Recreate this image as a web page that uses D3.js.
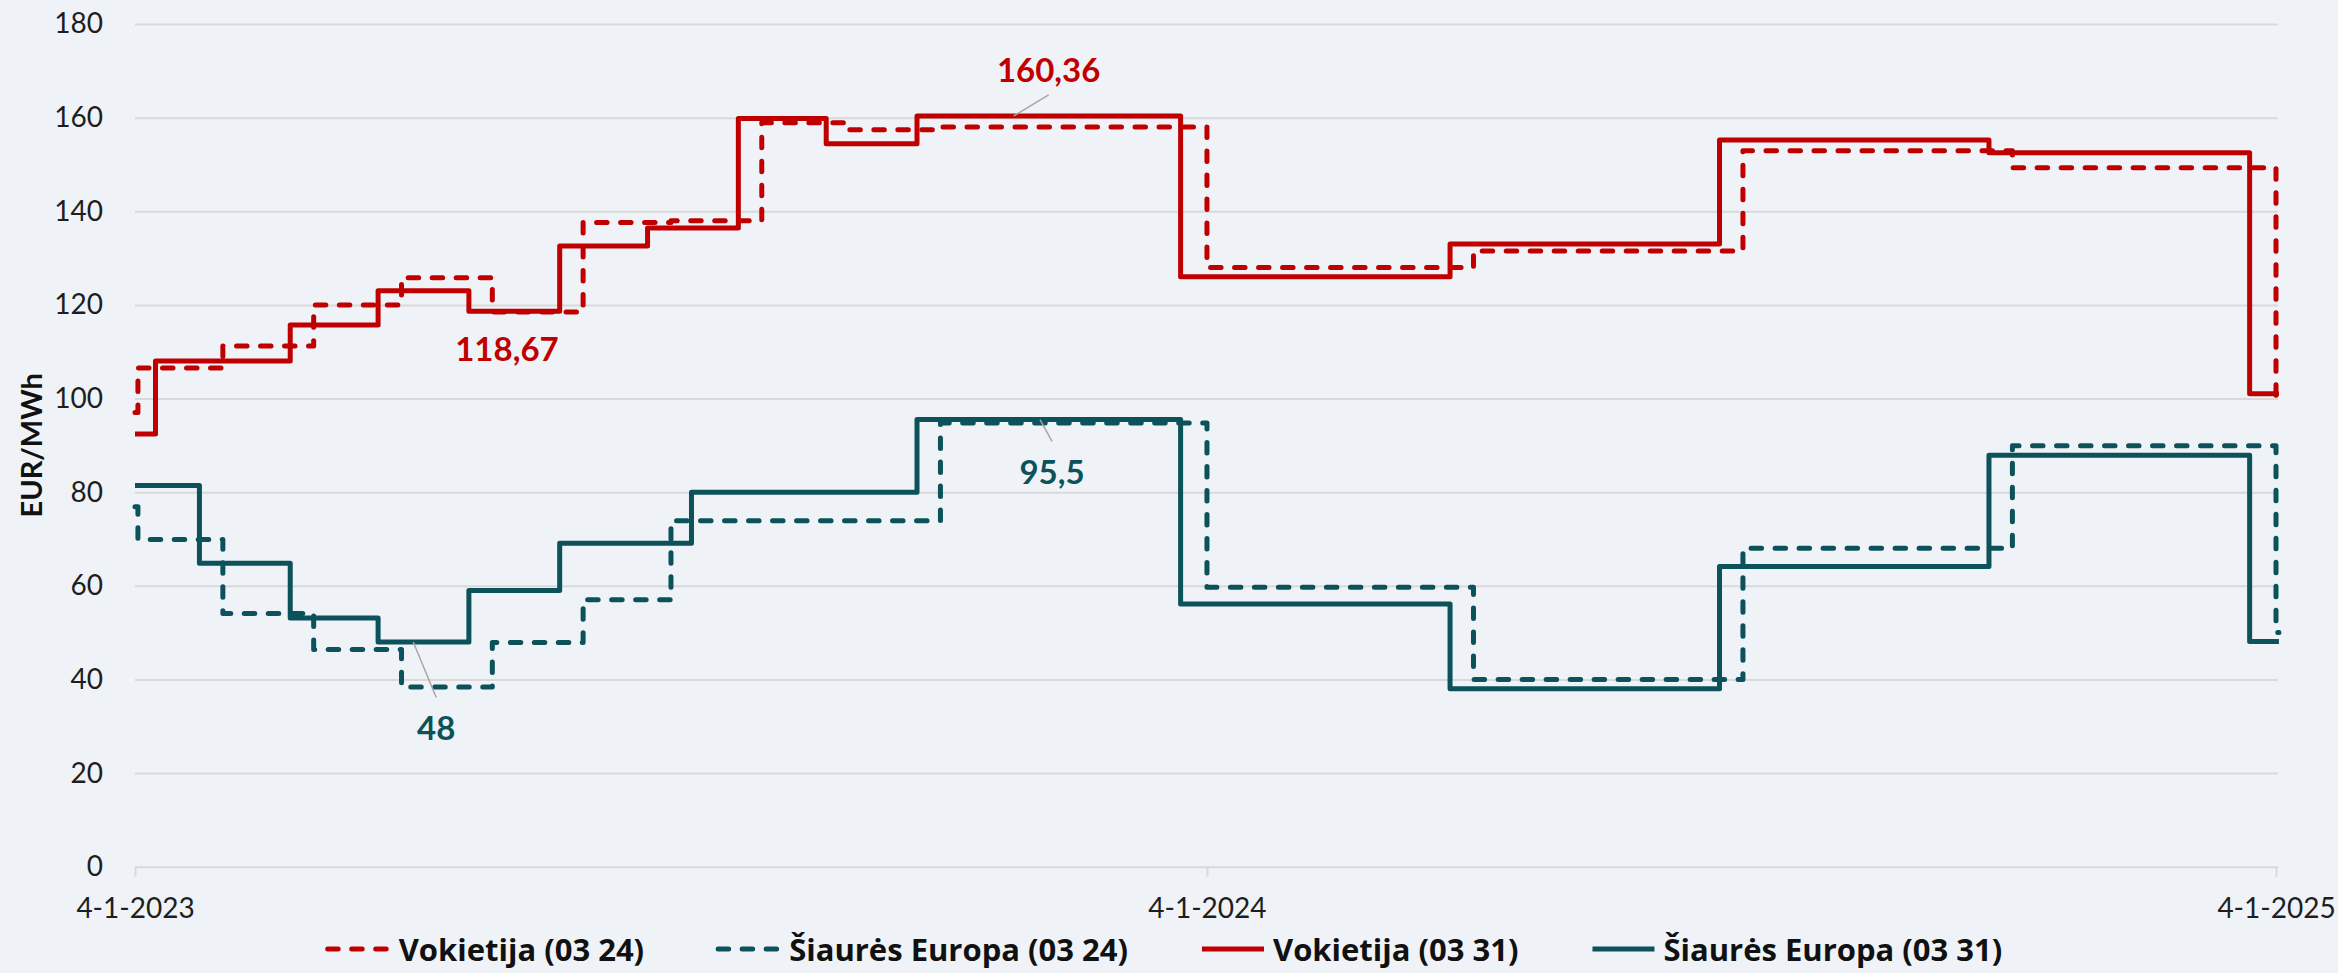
<!DOCTYPE html>
<html><head><meta charset="utf-8">
<script src="https://cdn.jsdelivr.net/npm/d3@7"></script>
<style>
html,body{margin:0;padding:0;background:#eff3f7;}
svg{display:block;}
text{font-family:Lato,"Open Sans",sans-serif;}
</style></head><body>
<svg id="chart" width="2338" height="973"></svg>
<script>
// ---------- data ----------
const yTicks = [0, 20, 40, 60, 80, 100, 120, 140, 160, 180];
const xTickDates = ["2023-04-01", "2024-04-01", "2025-04-01"];
const xTickLabels = ["4-1-2023", "4-1-2024", "4-1-2025"];
const seriesNames = ["Vokietija (03 24)", "Šiaurės Europa (03 24)", "Vokietija (03 31)", "Šiaurės Europa (03 31)"];
const endDate = "2025-04-02";

const vok0324Dates = ["2023-04-01","2023-04-02","2023-05-01","2023-06-01","2023-07-01","2023-08-01","2023-09-01","2023-10-01","2023-11-01","2023-12-01","2024-01-01","2024-04-01","2024-07-01","2024-10-01","2025-01-01","2025-04-01"];
const vok0324Values = [97.0, 106.5, 111.2, 120.0, 125.8, 118.5, 137.6, 138.0, 158.9, 157.4, 158.0, 128.0, 131.5, 152.9, 149.3, 99.3];

const se0324Dates = ["2023-04-01","2023-04-02","2023-05-01","2023-06-01","2023-07-01","2023-08-01","2023-09-01","2023-10-01","2024-01-01","2024-04-01","2024-07-01","2024-10-01","2025-01-01","2025-04-01"];
const se0324Values = [76.9, 69.9, 54.1, 46.4, 38.4, 47.9, 57.0, 73.9, 94.8, 59.7, 40.0, 68.0, 89.9, 50.0];

const vok0331Dates = ["2023-04-01","2023-04-08","2023-05-24","2023-06-23","2023-07-24","2023-08-24","2023-09-23","2023-10-24","2023-11-23","2023-12-24","2024-03-23","2024-06-23","2024-09-23","2024-12-24","2025-03-23"];
const vok0331Values = [92.4, 108.0, 115.7, 123.0, 118.67, 132.6, 136.4, 159.8, 154.4, 160.36, 126.0, 133.0, 155.2, 152.5, 101.0];

const se0331Dates = ["2023-04-01","2023-04-23","2023-05-24","2023-06-23","2023-07-24","2023-08-24","2023-10-08","2023-12-24","2024-03-23","2024-06-23","2024-09-23","2024-12-24","2025-03-23"];
const se0331Values = [81.4, 64.8, 53.1, 48.0, 59.0, 69.1, 80.0, 95.5, 56.1, 38.0, 64.1, 87.9, 48.1];

// data labels: anchor date/value on the line + label text
const labelTexts = ["118,67", "160,36", "95,5", "48"];
const labelAnchorDates = ["2023-08-06", "2024-01-26", "2024-02-04", "2023-07-05"];
const labelAnchorValues = [118.67, 160.36, 95.5, 48.0];

(function () {
// ---------- styling / layout ----------
const RED = "#c00000", TEAL = "#0b525a";
const W = 2338, H = 973;
const mLeft = 135, mRight = 2277, mTop = 24, mBottom = 866.7;
const LW = 5;
const parse = d3.utcParse("%Y-%m-%d");

const x = d3.scaleUtc().domain([parse(xTickDates[0]), parse(xTickDates[2])]).range([mLeft, 2276]);
const y = d3.scaleLinear().domain([0, 180]).range([mBottom, mTop]);

const svg = d3.select("#chart");
svg.append("rect").attr("width", W).attr("height", H).attr("fill", "#eff3f7");

// y axis with gridlines
const yAxis = svg.append("g").attr("transform", `translate(${mLeft},0)`)
  .call(d3.axisLeft(y).tickValues(yTicks).tickSize(-(mRight + 1 - mLeft)).tickPadding(32).tickFormat(d3.format("d")));
yAxis.select(".domain").remove();
yAxis.selectAll(".tick line").attr("stroke", "#d9d9d9").attr("stroke-width", 2);
yAxis.selectAll(".tick text").attr("font-size", 28).attr("fill", "#1e1e1e");

// x axis
const xAxis = svg.append("g").attr("transform", `translate(0,${mBottom})`)
  .call(d3.axisBottom(x).tickValues(xTickDates.map(parse)).tickFormat((d, i) => xTickLabels[i]).tickSize(10).tickPadding(21));
xAxis.select(".domain").remove();
xAxis.selectAll(".tick line").attr("stroke", "#d9d9d9").attr("stroke-width", 2);
xAxis.selectAll(".tick text").attr("font-size", 28).attr("fill", "#1e1e1e");

// y title
svg.append("text").attr("transform", `translate(30,${(mTop + mBottom) / 2}) rotate(-90)`)
  .attr("text-anchor", "middle").attr("dominant-baseline", "central")
  .attr("font-size", 29).attr("font-weight", 700).attr("fill", "#111").text("EUR/MWh");

function pts(dates, vals) {
  const p = dates.map((d, i) => [parse(d), vals[i]]);
  p.push([parse(endDate), vals[vals.length - 1]]);
  return p;
}
const line = d3.line().x(d => x(d[0])).y(d => y(d[1])).curve(d3.curveStepAfter);

const series = [
  {name: seriesNames[0], data: pts(vok0324Dates, vok0324Values), color: RED, dash: true},
  {name: seriesNames[1], data: pts(se0324Dates, se0324Values), color: TEAL, dash: true},
  {name: seriesNames[2], data: pts(vok0331Dates, vok0331Values), color: RED, dash: false},
  {name: seriesNames[3], data: pts(se0331Dates, se0331Values), color: TEAL, dash: false}
];

svg.append("g").selectAll("path").data(series).join("path")
  .attr("d", s => line(s.data))
  .attr("fill", "none")
  .attr("stroke", s => s.color)
  .attr("stroke-width", LW)
  .attr("stroke-linejoin", "round")
  .attr("stroke-linecap", s => s.dash ? "round" : "butt")
  .attr("stroke-dasharray", s => s.dash ? "10.5,13.5" : null);

// data labels
const labelColors = [RED, RED, TEAL, TEAL];
const labelOffsets = [[0, 37], [35, -47], [12, 51], [23, 85]];
const leaderTo = [null, [35, -21], [12, 21.7], [23, 55.6]];
labelTexts.forEach((t, i) => {
  const ax = x(parse(labelAnchorDates[i])), ay = y(labelAnchorValues[i]);
  if (leaderTo[i]) {
    svg.append("line").attr("x1", ax).attr("y1", ay)
      .attr("x2", ax + leaderTo[i][0]).attr("y2", ay + leaderTo[i][1])
      .attr("stroke", "#a6a6a6").attr("stroke-width", 1.5);
  }
  svg.append("text").attr("x", ax + labelOffsets[i][0]).attr("y", ay + labelOffsets[i][1])
    .attr("text-anchor", "middle").attr("dominant-baseline", "central")
    .attr("font-size", 33).attr("font-weight", 700).attr("fill", labelColors[i]).text(t);
});

// legend
const legY = 949, symLen = 64, symGap = 9, itemGap = 72;
const leg = svg.append("g");
const items = series.map(s => {
  const g = leg.append("g");
  g.append("line").attr("x1", 2).attr("x2", symLen).attr("y1", 0).attr("y2", 0)
    .attr("stroke", s.color).attr("stroke-width", LW)
    .attr("stroke-linecap", s.dash ? "round" : "butt")
    .attr("stroke-dasharray", s.dash ? "10.5,13.5" : null);
  const tx = g.append("text").attr("x", symLen + symGap).attr("y", 0)
    .attr("dominant-baseline", "central").attr("font-size", 31).attr("font-weight", 700)
    .style("font-family", "'Open Sans', Lato, sans-serif")
    .attr("fill", "#111").text(s.name);
  return {g, w: symLen + symGap + tx.node().getComputedTextLength()};
});
const total = d3.sum(items, d => d.w) + itemGap * (items.length - 1);
let cx = 1164 - total / 2;
items.forEach(it => { it.g.attr("transform", `translate(${cx},${legY})`); cx += it.w + itemGap; });
})();
</script>
</body></html>
